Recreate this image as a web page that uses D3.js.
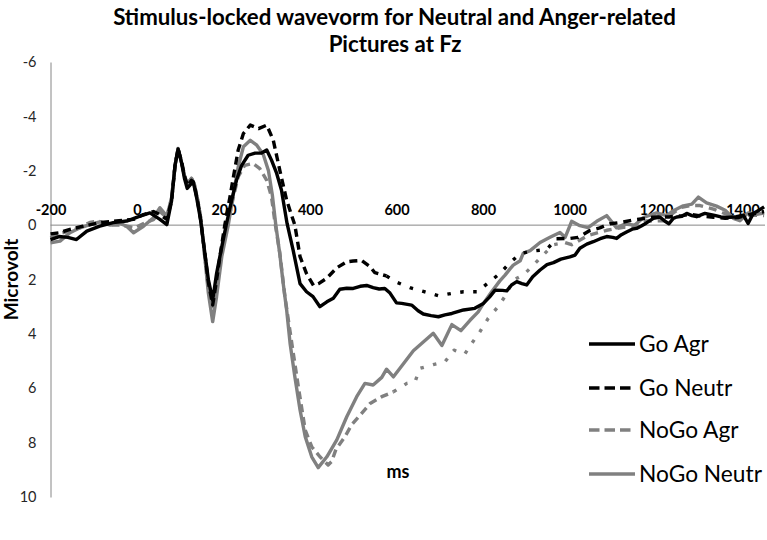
<!DOCTYPE html>
<html><head><meta charset="utf-8">
<script src="https://cdn.jsdelivr.net/npm/d3@7/dist/d3.min.js"></script>
<style>
html,body{margin:0;padding:0;background:#fff;}
svg{display:block;font-family:Lato,"Open Sans",sans-serif;}
</style></head>
<body>
<svg id="chart" width="767" height="540"></svg>
<script>
// ---------------- DATA ----------------
const titleLines = ["Stimulus-locked wavevorm for Neutral and Anger-related", "Pictures at Fz"];
const xLabel = "ms";
const yLabel = "Microvolt";
const xTicks = [-200, 0, 200, 400, 600, 800, 1000, 1200, 1400];
const yTicks = [-6, -4, -2, 0, 2, 4, 6, 8, 10];
const seriesNames = ["Go Agr", "Go Neutr", "NoGo Agr", "NoGo Neutr"];

// [ms, microvolt]
const goAgr = [[-200,0.53],[-180,0.42],[-160,0.45],[-140,0.53],[-116,0.22],[-86,0.04],[-55,-0.09],[-24,-0.15],[7,-0.33],[30,-0.45],[53,-0.21],[69,-0.02],[80,-0.9],[88,-2.2],[95,-2.8],[103,-2.3],[110,-1.7],[116,-1.35],[124,-1.5],[130,-1.6],[138,-1.0],[147,-0.2],[155,0.8],[165,2.0],[175,2.76],[184,1.78],[196,0.8],[207,-0.06],[219,-0.92],[230,-1.65],[242,-2.2],[257,-2.57],[273,-2.65],[288,-2.65],[300,-2.76],[311,-2.39],[323,-1.9],[334,-1.29],[347,-0.06],[361,0.92],[377,2.15],[392,2.45],[407,2.63],[423,3.0],[439,2.82],[454,2.69],[469,2.36],[485,2.32],[500,2.33],[516,2.25],[531,2.22],[546,2.3],[560,2.35],[573,2.33],[585,2.5],[600,2.86],[612,2.88],[635,2.94],[650,3.15],[662,3.27],[680,3.33],[697,3.37],[712,3.3],[728,3.25],[755,3.12],[781,3.06],[801,2.88],[815,2.65],[828,2.39],[845,2.4],[855,2.42],[866,2.2],[878,2.08],[890,2.15],[901,2.2],[915,1.9],[932,1.65],[948,1.45],[963,1.38],[980,1.25],[1001,1.17],[1013,1.1],[1024,0.85],[1040,0.7],[1055,0.61],[1071,0.5],[1086,0.42],[1100,0.45],[1109,0.49],[1120,0.35],[1132,0.25],[1145,0.15],[1155,0.12],[1166,0.03],[1178,-0.08],[1194,-0.25],[1209,-0.3],[1220,-0.15],[1230,-0.05],[1240,-0.25],[1248,-0.3],[1260,-0.32],[1271,-0.43],[1283,-0.35],[1294,-0.31],[1313,-0.43],[1333,-0.37],[1350,-0.3],[1363,-0.28],[1386,-0.31],[1402,-0.37],[1413,-0.06],[1425,-0.43],[1438,-0.55],[1450,-0.67]];

const goNeutr = [[-200,0.32],[-180,0.28],[-155,0.16],[-125,0.04],[-86,-0.09],[-48,-0.15],[-8,-0.21],[15,-0.39],[38,-0.5],[53,-0.39],[69,-0.21],[80,-0.9],[88,-2.2],[95,-2.8],[103,-2.35],[110,-1.8],[117,-1.45],[126,-1.65],[132,-1.5],[140,-0.9],[147,-0.2],[155,0.8],[165,2.1],[175,2.94],[184,2.02],[194,0.92],[203,0],[215,-1.04],[223,-1.78],[234,-2.76],[246,-3.37],[262,-3.68],[281,-3.55],[300,-3.68],[315,-3.13],[331,-1.96],[346,-0.92],[365,0],[377,1.16],[392,1.78],[408,2.22],[420,2.15],[439,1.95],[462,1.57],[485,1.35],[500,1.32],[519,1.3],[539,1.53],[550,1.75],[577,1.87],[600,2.1],[631,2.3],[662,2.44],[697,2.6],[728,2.51],[755,2.45],[787,2.45],[814,2.1],[839,1.78],[862,1.39],[886,1.05],[915,0.95],[947,0.9],[970,0.5],[1001,0.49],[1020,0.45],[1047,0.2],[1070,0.1],[1094,-0.05],[1120,-0.1],[1148,-0.19],[1175,-0.25],[1198,-0.3],[1230,-0.3],[1260,-0.35],[1279,-0.4],[1310,-0.32],[1333,-0.29],[1360,-0.25],[1390,-0.28],[1420,-0.4],[1450,-0.5]];

const noGoAgr = [[-200,0.47],[-178,0.3],[-155,0.22],[-132,0.1],[-109,-0.1],[-90,-0.15],[-62,0.0],[-40,0.0],[-20,0.05],[-5,0.1],[20,-0.1],[38,-0.2],[53,-0.5],[69,-0.27],[80,-1.0],[88,-2.2],[95,-2.8],[103,-2.3],[110,-1.8],[117,-1.55],[126,-1.72],[132,-1.55],[140,-0.95],[147,-0.3],[155,0.9],[165,2.3],[175,3.12],[186,1.9],[198,0.67],[211,-0.18],[223,-1.04],[234,-1.78],[249,-2.2],[268,-2.27],[284,-2.08],[300,-1.65],[311,-1.04],[319,-0.1],[330,1.0],[342,2.63],[358,4.35],[373,5.94],[389,7.54],[404,8.15],[423,8.52],[442,8.82],[450,8.7],[460,8.25],[481,7.78],[496,7.35],[516,6.99],[539,6.56],[566,6.31],[593,6.13],[624,5.82],[643,5.76],[654,5.27],[685,5.13],[712,5.03],[733,4.6],[758,4.74],[774,4.35],[793,3.92],[812,3.43],[835,3.0],[853,2.57],[870,2.02],[893,1.84],[916,1.48],[939,1.1],[963,0.72],[990,0.64],[1005,0.72],[1043,0.38],[1086,0.19],[1125,0.08],[1148,0.1],[1178,-0.15],[1217,-0.16],[1240,-0.45],[1259,-0.65],[1280,-0.72],[1302,-0.72],[1333,-0.59],[1363,-0.4],[1394,-0.28],[1425,-0.37],[1450,-0.35]];

const noGoNeutr = [[-200,0.65],[-178,0.59],[-155,0.28],[-132,0.1],[-109,-0.02],[-86,-0.12],[-62,0.0],[-43,-0.09],[-24,0.04],[-8,0.28],[15,0.04],[38,-0.27],[53,-0.64],[69,-0.33],[80,-1.0],[88,-2.2],[95,-2.82],[103,-2.3],[110,-1.8],[117,-1.5],[126,-1.72],[132,-1.55],[140,-0.95],[147,-0.3],[155,0.9],[165,2.5],[175,3.55],[184,2.63],[196,1.16],[211,0],[223,-1.16],[234,-2.14],[246,-2.88],[262,-3.12],[277,-2.94],[292,-2.6],[304,-2.0],[313,-1.1],[321,0.0],[330,1.04],[338,2.14],[346,3.12],[354,4.35],[365,5.58],[377,6.8],[389,7.78],[404,8.52],[419,8.92],[439,8.52],[462,7.9],[485,7.05],[508,6.31],[527,5.82],[546,5.88],[566,5.6],[577,5.3],[593,5.58],[616,5.1],[639,4.62],[662,4.3],[685,3.98],[705,4.43],[728,3.66],[749,3.88],[770,3.5],[789,3.19],[801,2.88],[820,2.45],[839,2.05],[851,1.84],[862,1.62],[870,1.47],[886,1.31],[893,1.04],[909,0.94],[932,0.64],[955,0.45],[978,0.27],[990,0.45],[1005,-0.14],[1024,0.02],[1043,0.09],[1063,-0.14],[1086,-0.35],[1109,0.1],[1128,-0.04],[1151,0.0],[1171,-0.28],[1201,-0.45],[1225,-0.35],[1240,-0.53],[1263,-0.71],[1283,-0.77],[1298,-1.03],[1317,-0.82],[1340,-0.7],[1360,-0.55],[1379,-0.25],[1394,-0.16],[1413,-0.45],[1433,-0.4],[1450,-0.45]];

const seriesData = [goAgr, goNeutr, noGoAgr, noGoNeutr];
const seriesColors = ["#000000", "#000000", "#808080", "#808080"];
const seriesDashed = [false, true, true, false];
// ms ranges where a dashed line looks dotted in the reference
const dotRange = [[580, 1000], [610, 1000]];

// ---------------- LAYOUT ----------------
const svg = d3.select("#chart");
const W = 767, H = 540;
svg.append("rect").attr("width", W).attr("height", H).attr("fill", "#fff");

const x = d3.scaleLinear().domain([-200, 1450]).range([50.5, 764.1]);
const y = d3.scaleLinear().domain([-6, 10]).range([62, 497]);
const plainFmt = d => String(d); // hyphen-minus like the reference

function fitText(sel, target) {
  const w = sel.node().getComputedTextLength();
  const fs = parseFloat(sel.attr("font-size"));
  sel.attr("font-size", (fs * target / w).toFixed(2));
}

// Title
const t1 = svg.append("text").attr("x", 394.5).attr("y", 25).attr("text-anchor", "middle")
  .attr("font-weight", "bold").attr("font-size", 19).attr("fill", "#000").text(titleLines[0]);
fitText(t1, 563);
svg.append("text").attr("x", 395).attr("y", 52).attr("text-anchor", "middle")
  .attr("font-weight", "bold").attr("font-size", t1.attr("font-size")).attr("fill", "#000").text(titleLines[1]);

// Y axis
const yAxis = d3.axisLeft(y).tickValues(yTicks).tickSize(0).tickPadding(14).tickFormat(plainFmt);
const gy = svg.append("g").attr("transform", `translate(${x(-200)},0)`).call(yAxis);
gy.select(".domain").attr("stroke", "#868686").attr("stroke-width", 1);
gy.selectAll("text").attr("font-family", "Lato, sans-serif").attr("font-size", 14.5).attr("fill", "#262626");

// X axis at zero
const xAxis = d3.axisTop(x).tickValues(xTicks).tickSize(0).tickPadding(10).tickFormat(plainFmt);
const gx = svg.append("g").attr("transform", `translate(0,${y(0)})`).call(xAxis);
gx.select(".domain").attr("stroke", "#868686").attr("stroke-width", 1)
  .attr("d", `M${x(-200)},0H765`);
gx.selectAll("text").attr("font-family", "Lato, sans-serif").attr("font-weight", "bold")
  .attr("font-size", 14.5).attr("fill", "#000");

// Axis titles
svg.append("text").attr("transform", `translate(18,${(y(-6) + y(10)) / 2}) rotate(-90)`)
  .attr("text-anchor", "middle").attr("font-weight", "bold").attr("font-size", 19).attr("fill", "#000").text(yLabel);
svg.append("text").attr("x", 398).attr("y", 478).attr("text-anchor", "middle")
  .attr("font-weight", "bold").attr("font-size", 18).attr("fill", "#000").text(xLabel);

// Lines
const line = d3.line().x(d => x(d[0])).y(d => y(d[1])).curve(d3.curveLinear);
const g = svg.append("g");
const drawOrder = [3, 2, 1, 0];
drawOrder.forEach(i => {
  const data = seriesData[i];
  if (!seriesDashed[i]) {
    g.append("path").attr("d", line(data)).attr("fill", "none").attr("stroke", seriesColors[i])
      .attr("stroke-width", 3.4).attr("stroke-linejoin", "round");
  } else {
    const r = dotRange[i === 1 ? 0 : 1];
    const a = data.filter(p => p[0] <= r[0]);
    const b = data.filter(p => p[0] >= a[a.length - 1][0] && p[0] <= r[1]);
    const c = data.filter(p => p[0] >= b[b.length - 1][0]);
    [[a, "8,5"], [b, "3.5,9.5"], [c, "8,6"]].forEach(([pts, dash]) => {
      g.append("path").attr("d", line(pts)).attr("fill", "none").attr("stroke", seriesColors[i])
        .attr("stroke-width", 3.4).attr("stroke-dasharray", dash).attr("stroke-linejoin", "round");
    });
  }
});

// Legend
const legendY = [344, 388, 430, 474];
const lg = svg.append("g");
seriesNames.forEach((name, i) => {
  lg.append("line").attr("x1", 589).attr("x2", 635).attr("y1", legendY[i]).attr("y2", legendY[i])
    .attr("stroke", seriesColors[i]).attr("stroke-width", 3.4)
    .attr("stroke-dasharray", seriesDashed[i] ? "10.5,5" : null);
  lg.append("text").attr("class", "lt").attr("x", 639).attr("y", legendY[i] + 7.5)
    .attr("font-size", 20).attr("fill", "#000").text(name);
});
const lt = lg.selectAll(".lt").filter((d, i) => i === 3);
const w0 = lt.node().getComputedTextLength();
lg.selectAll(".lt").attr("font-size", (20 * 123 / w0).toFixed(2));
</script>
</body></html>
